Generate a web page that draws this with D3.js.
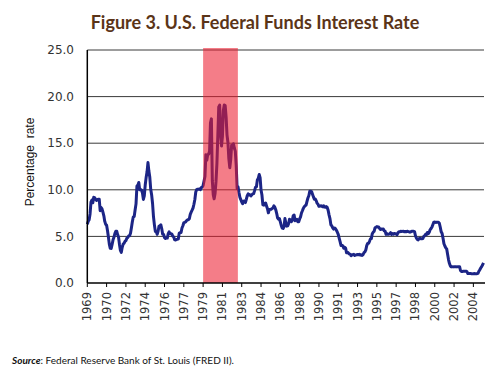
<!DOCTYPE html>
<html lang="en">
<head>
<meta charset="utf-8">
<title>U.S. Federal Funds Interest Rate</title>
<script src="https://d3js.org/d3.v7.min.js"></script>
<style>
  body { margin: 0; background: #fff; }
  svg { display: block; }
</style>
</head>
<body>
<div id="viz"></div>
<script>

// monthly effective federal funds rate, Jan 1969 - Dec 2004
var startYear = 1969;
var rates = [
  6.30, 6.61, 6.79, 7.41, 8.67, 8.90, 8.61, 9.19, 9.15, 9.00, 8.85, 8.97,   // 1969
  8.98, 8.98, 7.76, 8.10, 7.95, 7.61, 7.21, 6.61, 6.29, 6.20, 5.60, 4.90,   // 1970
  4.14, 3.72, 3.71, 4.15, 4.63, 4.91, 5.31, 5.56, 5.55, 5.20, 4.91, 4.14,   // 1971
  3.50, 3.29, 3.83, 4.17, 4.27, 4.46, 4.55, 4.80, 4.87, 5.04, 5.06, 5.33,   // 1972
  5.94, 6.58, 7.09, 7.12, 7.84, 8.49, 10.40, 10.50, 10.78, 10.01, 10.03, 9.95,  // 1973
  9.65, 8.97, 9.35, 10.51, 11.31, 11.93, 12.92, 12.01, 11.34, 10.06, 9.45, 8.53, // 1974
  7.13, 6.24, 5.54, 5.49, 5.22, 5.55, 6.10, 6.14, 6.24, 5.82, 5.22, 5.20,   // 1975
  4.87, 4.77, 4.84, 4.82, 5.29, 5.48, 5.31, 5.29, 5.25, 5.02, 4.95, 4.65,   // 1976
  4.61, 4.68, 4.69, 4.73, 5.35, 5.39, 5.42, 5.90, 6.14, 6.47, 6.51, 6.56,   // 1977
  6.70, 6.78, 6.79, 6.89, 7.36, 7.60, 7.81, 8.04, 8.45, 8.96, 9.76, 10.03,  // 1978
  10.07, 10.06, 10.09, 10.01, 10.24, 10.29, 10.47, 10.94, 11.43, 13.77, 13.18, 13.78, // 1979
  13.82, 14.13, 17.19, 17.61, 10.98, 9.47, 9.03, 9.61, 10.87, 12.81, 15.85, 18.90,    // 1980
  19.08, 15.93, 14.70, 15.72, 18.52, 19.10, 19.04, 17.82, 15.87, 15.08, 13.31, 12.37, // 1981
  13.22, 14.78, 14.68, 14.94, 14.45, 14.15, 12.59, 10.12, 10.31, 9.71, 9.20, 8.95,    // 1982
  8.68, 8.51, 8.77, 8.80, 8.63, 8.98, 9.37, 9.56, 9.45, 9.48, 9.34, 9.47,   // 1983
  9.56, 9.59, 9.91, 10.29, 10.32, 11.06, 11.23, 11.64, 11.30, 9.99, 9.43, 8.38, // 1984
  8.35, 8.50, 8.58, 8.27, 7.97, 7.53, 7.88, 7.90, 7.92, 7.99, 8.05, 8.27,   // 1985
  8.14, 7.86, 7.48, 6.99, 6.85, 6.92, 6.56, 6.17, 5.89, 5.85, 6.04, 6.91,   // 1986
  6.43, 6.10, 6.13, 6.37, 6.85, 6.73, 6.58, 6.73, 7.22, 7.29, 6.69, 6.77,   // 1987
  6.83, 6.58, 6.58, 6.87, 7.09, 7.51, 7.75, 8.01, 8.19, 8.30, 8.35, 8.76,   // 1988
  9.12, 9.36, 9.85, 9.84, 9.81, 9.53, 9.24, 8.99, 9.02, 8.84, 8.55, 8.45,   // 1989
  8.23, 8.24, 8.28, 8.26, 8.18, 8.29, 8.15, 8.13, 8.20, 8.11, 7.81, 7.31,   // 1990
  6.91, 6.25, 6.12, 5.91, 5.78, 5.90, 5.82, 5.66, 5.45, 5.21, 4.81, 4.43,   // 1991
  4.03, 4.06, 3.98, 3.73, 3.82, 3.76, 3.25, 3.30, 3.22, 3.10, 3.09, 2.92,   // 1992
  3.02, 3.03, 3.07, 2.96, 3.00, 3.04, 3.06, 3.03, 3.09, 2.99, 3.02, 2.96,   // 1993
  3.05, 3.25, 3.34, 3.56, 4.01, 4.25, 4.26, 4.47, 4.73, 4.76, 5.29, 5.45,   // 1994
  5.53, 5.92, 5.98, 6.05, 6.01, 6.00, 5.85, 5.74, 5.80, 5.76, 5.80, 5.60,   // 1995
  5.56, 5.22, 5.31, 5.22, 5.24, 5.27, 5.40, 5.22, 5.30, 5.24, 5.31, 5.29,   // 1996
  5.25, 5.19, 5.39, 5.51, 5.50, 5.56, 5.52, 5.54, 5.54, 5.50, 5.52, 5.50,   // 1997
  5.56, 5.51, 5.49, 5.45, 5.49, 5.56, 5.54, 5.55, 5.51, 5.07, 4.83, 4.68,   // 1998
  4.63, 4.76, 4.81, 4.74, 4.74, 4.76, 4.99, 5.07, 5.22, 5.20, 5.42, 5.30,   // 1999
  5.45, 5.73, 5.85, 6.02, 6.27, 6.53, 6.54, 6.50, 6.52, 6.51, 6.51, 6.40,   // 2000
  5.98, 5.49, 5.31, 4.80, 4.21, 3.97, 3.77, 3.65, 3.07, 2.49, 2.09, 1.82,   // 2001
  1.73, 1.74, 1.73, 1.75, 1.75, 1.75, 1.73, 1.74, 1.75, 1.75, 1.34, 1.24,   // 2002
  1.24, 1.26, 1.25, 1.26, 1.26, 1.22, 1.01, 1.03, 1.01, 1.01, 1.00, 0.98,   // 2003
  1.00, 1.01, 1.00, 1.00, 1.00, 1.03, 1.26, 1.43, 1.61, 1.76, 1.93, 2.16    // 2004
];

// x axis labels, one every 21 months from Jan 1969
var tickLabels = ['1969', '1970', '1972', '1974', '1976', '1977', '1979', '1981', '1983', '1984',
                  '1986', '1988', '1990', '1991', '1993', '1995', '1997', '1998', '2000', '2002', '2004'];
var yTicks = [0, 5, 10, 15, 20, 25];

// shaded period (Volcker tightening)
var shadeStart = 1979.5;
var shadeEnd = 1982.65;

var w = 500;
var h = 385;

var svg = d3.select("#viz")
            .append("svg")
            .attr("width", w)
            .attr("height", h);

var x = d3.scaleLinear()
          .domain([1969, 2005])
          .range([87.3, 484.4]);

var y = d3.scaleLinear()
          .domain([0, 25])
          .range([283, 50]);

// title
svg.append("text")
   .attr("x", 255)
   .attr("y", 29)
   .attr("text-anchor", "middle")
   .attr("font-family", "Lato")
   .attr("font-weight", "bold")
   .attr("font-size", 18)
   .attr("fill", "#5b3418")
   .text("Figure 3. U.S. Federal Funds Interest Rate");

// gridlines
svg.selectAll(".grid")
   .data(yTicks.filter(function(d) { return d > 0; }))
   .enter()
   .append("line")
   .attr("class", "grid")
   .attr("x1", x(1969))
   .attr("x2", 484)
   .attr("y1", function(d) { return y(d); })
   .attr("y2", function(d) { return y(d); })
   .attr("stroke", "#3a3a3a")
   .attr("stroke-width", 1);

// y axis labels
svg.selectAll(".ylab")
   .data(yTicks)
   .enter()
   .append("text")
   .attr("class", "ylab")
   .attr("x", 74)
   .attr("y", function(d) { return y(d); })
   .attr("dy", "0.35em")
   .attr("text-anchor", "end")
   .attr("font-family", "DejaVu Sans")
   .attr("font-size", 12)
   .attr("fill", "#333")
   .text(function(d) { return d3.format(".1f")(d); });

// y axis title
svg.append("text")
   .attr("transform", "translate(34," + 162 + ") rotate(-90)")
   .attr("text-anchor", "middle")
   .attr("font-family", "Liberation Sans")
   .attr("font-size", 12)
   .attr("fill", "#111")
   .style("white-space", "pre")
   .text("Percentage  rate");

// the series
var series = rates.map(function(v, i) {
  return { t: startYear + i / 12, v: v };
});

var line = d3.line()
             .x(function(d) { return x(d.t); })
             .y(function(d) { return y(d.v); })
             .curve(d3.curveLinear);

svg.append("path")
   .datum(series)
   .attr("d", line)
   .attr("fill", "none")
   .attr("stroke", "#1c2586")
   .attr("stroke-width", 3)
   .attr("stroke-linejoin", "round");

// shaded period on top, semi-transparent
svg.append("rect")
   .attr("x", x(shadeStart))
   .attr("y", y(25) - 2)
   .attr("width", x(shadeEnd) - x(shadeStart))
   .attr("height", y(0) - y(25) + 2)
   .attr("fill", "#ec1b2e")
   .attr("opacity", 0.57);

// x axis
var tickPos = tickLabels.map(function(d, i) { return 1969 + i * 21 / 12; });

svg.append("line")
   .attr("x1", x(1969))
   .attr("x2", 485)
   .attr("y1", y(0))
   .attr("y2", y(0))
   .attr("stroke", "#000")
   .attr("stroke-width", 1.5);

svg.selectAll(".xtick")
   .data(tickPos)
   .enter()
   .append("line")
   .attr("class", "xtick")
   .attr("x1", function(d) { return x(d); })
   .attr("x2", function(d) { return x(d); })
   .attr("y1", y(0))
   .attr("y2", y(0) + 4)
   .attr("stroke", "#000")
   .attr("stroke-width", 1);

svg.selectAll(".xlab")
   .data(tickPos)
   .enter()
   .append("text")
   .attr("class", "xlab")
   .attr("transform", function(d) { return "translate(" + (x(d) + 4) + ",292) rotate(-90)"; })
   .attr("text-anchor", "end")
   .attr("font-family", "DejaVu Sans")
   .attr("font-size", 11.5)
   .attr("fill", "#333")
   .text(function(d, i) { return tickLabels[i]; });

// y axis line
svg.append("line")
   .attr("x1", x(1969))
   .attr("x2", x(1969))
   .attr("y1", y(25))
   .attr("y2", y(0))
   .attr("stroke", "#000")
   .attr("stroke-width", 1.5);

// source note
var src = svg.append("text")
             .attr("x", 12)
             .attr("y", 364)
             .attr("font-family", "Lato")
             .attr("font-size", 10)
             .attr("fill", "#111");

src.append("tspan")
   .attr("font-weight", "bold")
   .attr("font-style", "italic")
   .text("Source");

src.append("tspan")
   .text(": Federal Reserve Bank of St. Louis (FRED II).");

</script>
</body>
</html>
